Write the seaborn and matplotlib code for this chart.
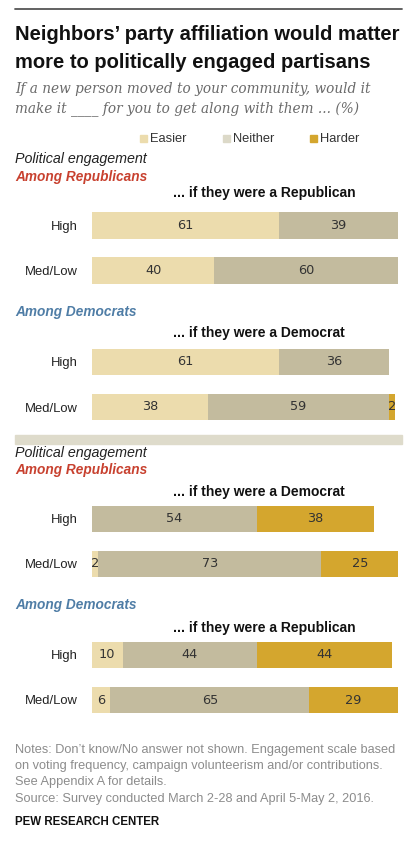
import matplotlib
matplotlib.use("Agg")
import matplotlib.pyplot as plt
from matplotlib.patches import Rectangle
from matplotlib.lines import Line2D
import seaborn as sns
import numpy as np

sns.set_theme(style="white")
plt.rcParams['font.family'] = ['Liberation Sans', 'DejaVu Sans']

# ---- data ----
levels = ["High", "Med/Low"]
series = ["Easier", "Neither", "Harder"]
colors = {"Easier": "#ecdcad", "Neither": "#c3bb9e", "Harder": "#d4a62e"}
legend_colors = {"Easier": "#ecdcad", "Neither": "#dcd9c8", "Harder": "#d4a62e"}

rep_about_rep_easier = [61, 40]
rep_about_rep_neither = [39, 60]
rep_about_rep_harder = [0, 0]

dem_about_dem_easier = [61, 38]
dem_about_dem_neither = [36, 59]
dem_about_dem_harder = [0, 2]

rep_about_dem_easier = [0, 2]
rep_about_dem_neither = [54, 73]
rep_about_dem_harder = [38, 25]

dem_about_rep_easier = [10, 6]
dem_about_rep_neither = [44, 65]
dem_about_rep_harder = [44, 29]

panels = [
    (rep_about_rep_easier, rep_about_rep_neither, rep_about_rep_harder),
    (dem_about_dem_easier, dem_about_dem_neither, dem_about_dem_harder),
    (rep_about_dem_easier, rep_about_dem_neither, rep_about_dem_harder),
    (dem_about_rep_easier, dem_about_rep_neither, dem_about_rep_harder),
]
# bar-centre of first row (px from top), row spacing
panel_first_center = [225.5, 362.0, 518.7, 655.0]
SEP = 45.0

W, H = 414, 844
fig = plt.figure(figsize=(W / 100, H / 100), dpi=100)


def fx(px):
    return px / W


def fy(py):
    return 1 - py / H


def ftext(x, y, s, **kw):
    fig.text(fx(x), fy(y), s, **kw)


# top rule
fig.add_artist(Line2D([fx(15), fx(402)], [fy(8.5), fy(8.5)], color="#555555", lw=1.3))

# title
ftext(15, 35, "Neighbors’ party affiliation would matter", fontsize=14.5,
      fontweight="bold", color="#111111", va="center")
ftext(15, 62, "more to politically engaged partisans", fontsize=14.5,
      fontweight="bold", color="#111111", va="center")
ftext(15, 89, "If a new person moved to your community, would it", fontsize=9.8,
      style="italic", family="DejaVu Serif", color="#6b6b6b", va="center")
ftext(15, 109, "make it ____ for you to get along with them ... (%)", fontsize=9.8,
      style="italic", family="DejaVu Serif", color="#6b6b6b", va="center")

# legend
leg_x = {"Easier": 140, "Neither": 223, "Harder": 310}
for s in series:
    fig.add_artist(Rectangle((fx(leg_x[s]), fy(142)), fx(7), 7 / H,
                             color=legend_colors[s], transform=fig.transFigure))
    ftext(leg_x[s] + 10, 138.5, s, fontsize=9.3, color="#333333", va="center")

# separator band
fig.add_artist(Rectangle((fx(15), fy(444)), fx(387), 9 / H, color="#dedbcb",
                         transform=fig.transFigure))

red = "#c8412f"
blue = "#4f7da6"
section_texts = [
    (159, "Political engagement", dict(style="italic", color="#222222", fontsize=10.3)),
    (177, "Among Republicans", dict(style="italic", fontweight="bold", color=red, fontsize=9.8)),
    (312, "Among Democrats", dict(style="italic", fontweight="bold", color=blue, fontsize=9.8)),
    (453, "Political engagement", dict(style="italic", color="#222222", fontsize=10.3)),
    (470, "Among Republicans", dict(style="italic", fontweight="bold", color=red, fontsize=9.8)),
    (605, "Among Democrats", dict(style="italic", fontweight="bold", color=blue, fontsize=9.8)),
]
for y, s, kw in section_texts:
    ftext(15, y, s, va="center", **kw)

headers = [(193, "... if they were a Republican"), (333, "... if they were a Democrat"),
           (492, "... if they were a Democrat"), (628, "... if they were a Republican")]
for y, s in headers:
    ftext(173, y, s, fontsize=10.0, fontweight="bold", color="#111111", va="center")

# bars
x0, x1 = 92, 398
for (e, n, h), c0 in zip(panels, panel_first_center):
    top = c0 - SEP / 2
    ax = fig.add_axes([fx(x0), fy(top + 2 * SEP), fx(x1 - x0), 2 * SEP / H])
    e = np.array(e); n = np.array(n); h = np.array(h)
    totals = [e + n + h, e + n, e]
    for vals, s in zip(totals, ["Harder", "Neither", "Easier"]):
        sns.barplot(x=vals, y=levels, orient="h", color=colors[s], width=0.58,
                    saturation=1, ax=ax, linewidth=0)
    ax.set_xlim(0, 100)
    ax.set_ylim(1.5, -0.5)
    for i in range(2):
        starts = [0, e[i], e[i] + n[i]]
        for v, st in zip([e[i], n[i], h[i]], starts):
            if v > 0:
                ax.text(st + v / 2, i, str(v), ha="center", va="center",
                        fontsize=9.3, color="#333333", family="DejaVu Sans")
    ax.set_xlabel(""); ax.set_ylabel("")
    ax.set_xticks([])
    ax.tick_params(axis="y", length=0, pad=10, labelsize=9.4, labelcolor="#222222")
    for sp in ax.spines.values():
        sp.set_visible(False)
    ax.set_facecolor("none")

# notes
notes = ["Notes: Don’t know/No answer not shown. Engagement scale based",
         "on voting frequency, campaign volunteerism and/or contributions.",
         "See Appendix A for details.",
         "Source: Survey conducted March 2-28 and April 5-May 2, 2016."]
for y, s in zip([750, 766, 782, 799], notes):
    ftext(15, y, s, fontsize=9.2, color="#8c8c8c", va="center")
ftext(15, 822, "PEW RESEARCH CENTER", fontsize=8.3, fontweight="bold",
      color="#111111", va="center")

fig.savefig("out.png", dpi=100, facecolor="white")
